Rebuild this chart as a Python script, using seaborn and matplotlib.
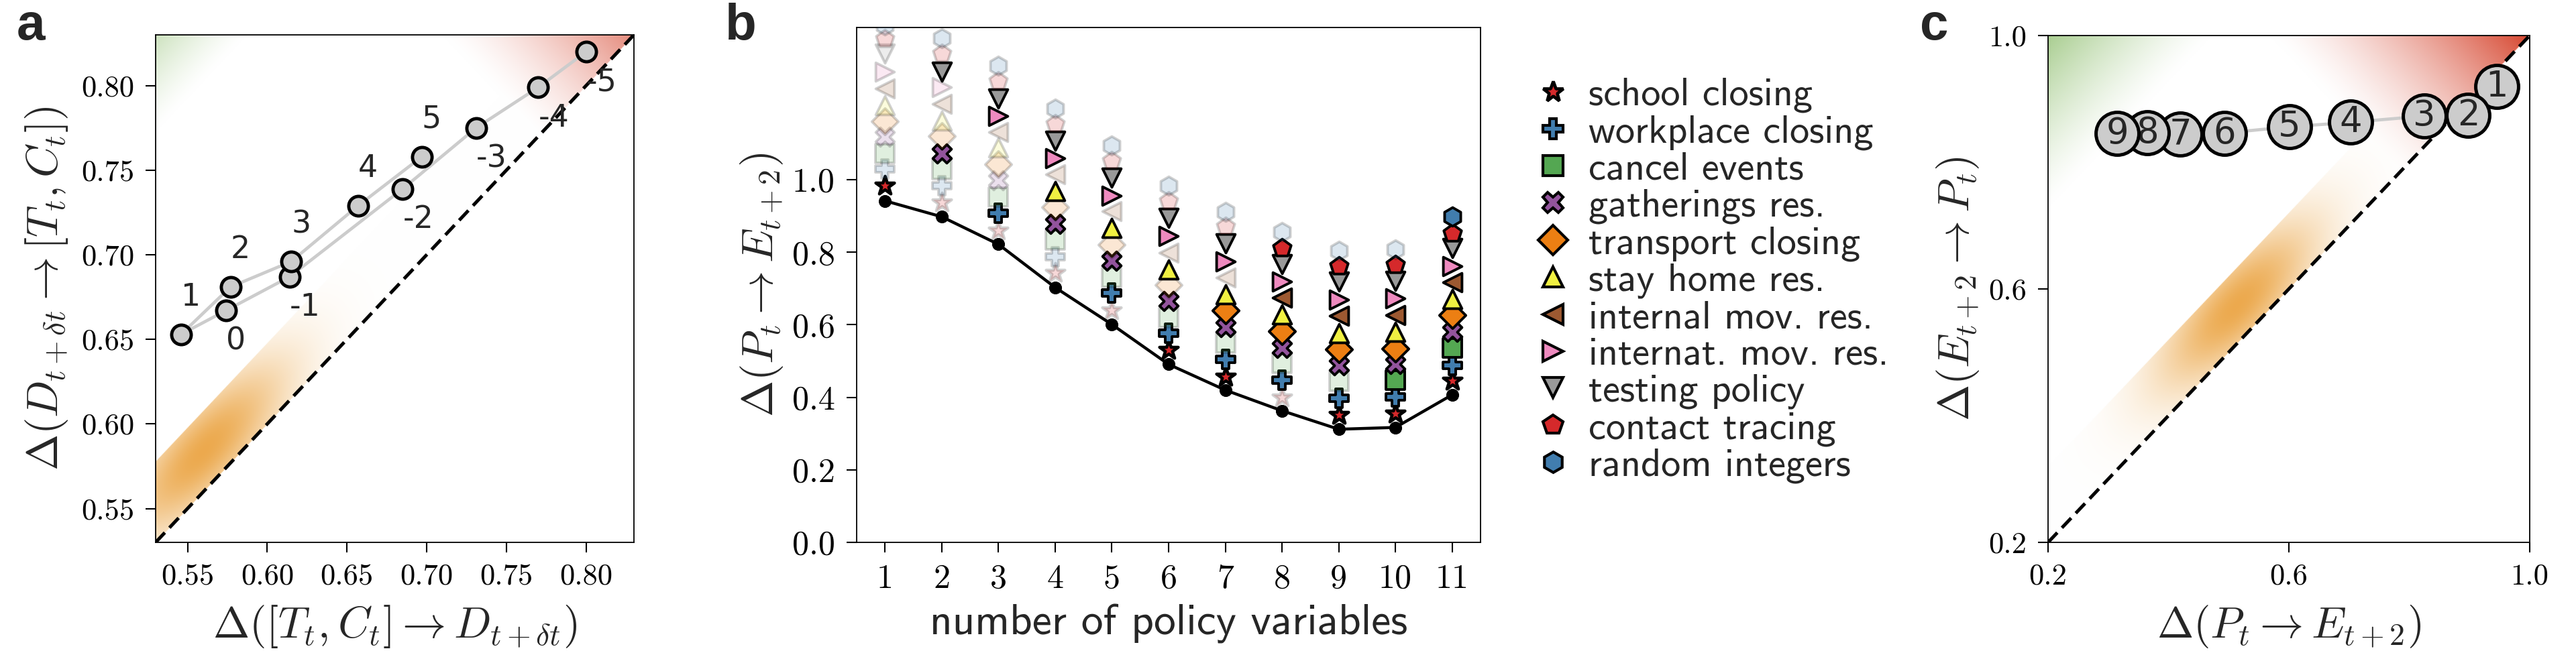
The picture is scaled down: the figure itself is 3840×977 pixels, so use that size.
import matplotlib
matplotlib.use("Agg")
import matplotlib.pyplot as plt
from matplotlib.lines import Line2D
from matplotlib.colors import to_rgb
import numpy as np
import pandas as pd
import seaborn as sns

sns.set_theme(style="ticks")
plt.rcParams["font.family"] = ["cmr10", "DejaVu Sans"]
plt.rcParams["mathtext.fontset"] = "cm"
plt.rcParams["axes.unicode_minus"] = False
plt.rcParams["axes.linewidth"] = 1.3
plt.rcParams["axes.edgecolor"] = "black"

# ---- panel a: lags
lags = [-5, -4, -3, -2, -1, 0, 1, 2, 3, 4, 5]
lag_x = [0.800, 0.770, 0.731, 0.685, 0.614, 0.574, 0.546, 0.577, 0.615, 0.657, 0.697]
lag_y = [0.820, 0.799, 0.775, 0.739, 0.687, 0.667, 0.653, 0.681, 0.696, 0.729, 0.758]

# ---- panel b: number of policy variables
n_vars = [1, 2, 3, 4, 5, 6, 7, 8, 9, 10, 11]
best_set = [0.942, 0.898, 0.822, 0.703, 0.601, 0.491, 0.420, 0.363, 0.312, 0.317, 0.407]

policy_names = ["school closing", "workplace closing", "cancel events", "gatherings res.",
                "transport closing", "stay home res.", "internal mov. res.",
                "internat. mov. res.", "testing policy", "contact tracing", "random integers"]

school_closing = [0.983, 0.938, 0.859, 0.743, 0.639, 0.531, 0.457, 0.400, 0.352, 0.355, 0.445]
workplace_closing = [1.030, 0.983, 0.907, 0.788, 0.687, 0.577, 0.504, 0.448, 0.398, 0.401, 0.488]
cancel_events = [1.072, 1.028, 0.953, 0.833, 0.731, 0.620, 0.549, 0.494, 0.443, 0.448, 0.537]
gatherings_res = [1.118, 1.073, 0.999, 0.879, 0.776, 0.665, 0.593, 0.537, 0.488, 0.491, 0.580]
transport_closing = [1.161, 1.120, 1.043, 0.924, 0.821, 0.710, 0.639, 0.583, 0.533, 0.535, 0.626]
stay_home_res = [1.206, 1.163, 1.089, 0.969, 0.867, 0.753, 0.685, 0.628, 0.577, 0.580, 0.671]
internal_mov = [1.252, 1.209, 1.132, 1.015, 0.913, 0.799, 0.731, 0.674, 0.625, 0.626, 0.717]
internat_mov = [1.298, 1.255, 1.176, 1.059, 0.956, 0.845, 0.774, 0.719, 0.670, 0.673, 0.762]
testing_policy = [1.348, 1.298, 1.224, 1.107, 1.006, 0.895, 0.824, 0.767, 0.719, 0.722, 0.811]
contact_tracing = [1.388, 1.348, 1.272, 1.153, 1.052, 0.941, 0.870, 0.811, 0.762, 0.765, 0.852]
random_integers = [1.425, 1.390, 1.314, 1.197, 1.094, 0.983, 0.911, 0.856, 0.805, 0.808, 0.898]

# 1 = variable belongs to the selected set for that n (drawn opaque)
school_sel = [1, 0, 0, 0, 0, 1, 1, 0, 1, 1, 1]
workplace_sel = [0, 0, 1, 0, 1, 1, 1, 1, 1, 1, 1]
cancel_sel = [0, 0, 0, 0, 0, 0, 0, 0, 0, 1, 1]
gatherings_sel = [0, 1, 0, 1, 1, 1, 1, 1, 1, 1, 1]
transport_sel = [0, 0, 0, 0, 0, 0, 1, 1, 1, 1, 1]
stay_home_sel = [0, 0, 0, 1, 1, 1, 1, 1, 1, 1, 1]
internal_sel = [0, 0, 0, 0, 0, 0, 0, 1, 1, 1, 1]
internat_sel = [0, 0, 1, 1, 1, 1, 1, 1, 1, 1, 1]
testing_sel = [0, 1, 1, 1, 1, 1, 1, 1, 1, 1, 1]
contact_sel = [0, 0, 0, 0, 0, 0, 0, 1, 1, 1, 1]
random_sel = [0, 0, 0, 0, 0, 0, 0, 0, 0, 0, 1]

# ---- panel c: embedding dimension
dims = [1, 2, 3, 4, 5, 6, 7, 8, 9]
dim_x = [0.945, 0.898, 0.825, 0.703, 0.601, 0.493, 0.420, 0.365, 0.315]
dim_y = [0.920, 0.874, 0.873, 0.863, 0.856, 0.846, 0.844, 0.847, 0.845]

values = [school_closing, workplace_closing, cancel_events, gatherings_res, transport_closing,
          stay_home_res, internal_mov, internat_mov, testing_policy, contact_tracing,
          random_integers]
selected = [school_sel, workplace_sel, cancel_sel, gatherings_sel, transport_sel, stay_home_sel,
            internal_sel, internat_sel, testing_sel, contact_sel, random_sel]
markers = ["*", "P", "s", "X", "D", "^", "<", ">", "v", "p", "h"]
set1 = sns.color_palette("Set1", 9, desat=0.85)
colors = [set1[i % 9] for i in range(11)]

W, H = 3840, 977
fig = plt.figure(figsize=(W / 100, H / 100), dpi=100)


def px_axes(l, r, t, b):
    return fig.add_axes([l / W, 1 - b / H, (r - l) / W, (b - t) / H])


def shade(ax, lo, hi, green, red, orange):
    """background washes: green corner, red corner, orange band along the diagonal"""
    g = np.linspace(lo, hi, 600)
    X, Y = np.meshgrid(g, g)
    d = (Y - X) / (hi - lo)
    s = (X + Y - 2 * lo) / (2 * (hi - lo))
    img = np.ones(X.shape + (3,))

    def blend(col, a):
        nonlocal img
        img = img * (1 - a[..., None]) + np.array(to_rgb(col)) * a[..., None]

    g0, gmax = green
    blend("#70ad47", gmax * np.clip((d - g0) / (1 - g0), 0, 1) ** 1.3)
    r0, rmax = red
    blend("#d43d25", rmax * np.clip((s - r0) / (1 - r0), 0, 1) ** 1.4 * (d >= 0))
    s0, ws, d0, wd, amax = orange
    band = (d >= 0) & (d <= 2 * d0)
    a_or = amax * np.exp(-((s - s0) / ws) ** 2) * np.exp(-((d - d0) / wd) ** 2) * band
    blend("#eba545", a_or)
    ax.imshow(img, extent=(lo, hi, lo, hi), origin="lower", aspect="auto",
              interpolation="bilinear", zorder=0)


def style_ticks(ax, size):
    ax.tick_params(direction="out", length=11, width=1.5, pad=12, labelsize=size,
                   colors="black")
    for sp in ax.spines.values():
        sp.set_visible(True)
        sp.set_color("black")


# ---------------- panel a
ax_a = px_axes(232, 945, 52, 809)
shade(ax_a, 0.53, 0.83, green=(0.81, 0.35), red=(0.80, 0.6),
      orange=(0.14, 0.16, 0.08, 0.12, 0.95))
ax_a.plot([0.53, 0.83], [0.53, 0.83], color="black", lw=3.6, dashes=(4, 2), zorder=1)
df_a = pd.DataFrame({"x": lag_x, "y": lag_y, "lag": lags})
sns.lineplot(data=df_a, x="x", y="y", sort=False, color="#cccccc", lw=3.4, ax=ax_a, zorder=2)
sns.scatterplot(data=df_a, x="x", y="y", s=21 ** 2, color="#cccccc", edgecolor="black",
                linewidth=3.5, ax=ax_a, zorder=3)
for lx, ly, lg in zip(lag_x, lag_y, lags):
    dy = 40 if lg > 0 else -33
    ax_a.annotate(str(lg), (lx, ly), xytext=(0, dy), textcoords="offset points",
                  ha="left", va="center", fontsize=33, family="DejaVu Sans", zorder=4)
ax_a.set_xlim(0.53, 0.83)
ax_a.set_ylim(0.53, 0.83)
ax_a.set_xticks([0.55, 0.60, 0.65, 0.70, 0.75, 0.80])
ax_a.set_yticks([0.55, 0.60, 0.65, 0.70, 0.75, 0.80])
ax_a.set_xticklabels([f"{v:.2f}" for v in ax_a.get_xticks()])
ax_a.set_yticklabels([f"{v:.2f}" for v in ax_a.get_yticks()])
style_ticks(ax_a, 32)
ax_a.set_xlabel(r"$\Delta([T_t, C_t] \rightarrow D_{t+\delta t})$", fontsize=47, labelpad=14)
ax_a.set_ylabel(r"$\Delta(D_{t+\delta t} \rightarrow [T_t, C_t])$", fontsize=47, labelpad=12)

# ---------------- panel b
ax_b = px_axes(1277, 2207, 41, 809)
sns.lineplot(x=n_vars, y=best_set, color="black", lw=3.2, marker="o", markersize=13,
             markeredgecolor="black", ax=ax_b, zorder=2)
for vals, sel, mk, col in zip(values, selected, markers, colors):
    df = pd.DataFrame({"n": n_vars, "v": vals, "sel": sel})
    sz = 21 ** 2 if mk == "*" else 20 ** 2
    lw = 3.3 if mk == "*" else 2.8
    for flag, alpha in [(0, 0.18), (1, 1.0)]:
        part = df[df["sel"] == flag]
        if len(part):
            sns.scatterplot(data=part, x="n", y="v", marker=mk, s=sz, color=col,
                            edgecolor="black", linewidth=lw, alpha=alpha, ax=ax_b,
                            zorder=3, clip_on=True)
ax_b.set_xlim(0.5, 11.5)
ax_b.set_ylim(0, 1.42)
ax_b.set_xticks(n_vars)
ax_b.set_yticks([0.0, 0.2, 0.4, 0.6, 0.8, 1.0])
ax_b.set_yticklabels([f"{v:.1f}" for v in ax_b.get_yticks()])
style_ticks(ax_b, 36)
ax_b.set_xlabel("number of policy variables", fontsize=47, family="cmss10", labelpad=10)
ax_b.set_ylabel(r"$\Delta(P_t \rightarrow E_{t+2})$", fontsize=47, labelpad=8)

handles = [Line2D([], [], ls="none", marker=mk, markersize=(23 if mk == "*" else 22),
                  markerfacecolor=col, markeredgecolor="black",
                  markeredgewidth=(3.4 if mk == "*" else 3.0))
           for mk, col in zip(markers, colors)]
fig.legend(handles, policy_names, loc="upper left", bbox_to_anchor=(2280 / W, 1 - 116 / H),
           frameon=False, prop={"family": "cmss10", "size": 42}, labelspacing=0.05,
           handletextpad=0.3, handlelength=1.2, borderaxespad=0, borderpad=0)

# ---------------- panel c
ax_c = px_axes(3053, 3771, 53, 809)
shade(ax_c, 0.2, 1.0, green=(0.66, 0.60), red=(0.73, 0.95),
      orange=(0.43, 0.15, 0.075, 0.12, 0.95))
ax_c.plot([0.2, 1.0], [0.2, 1.0], color="black", lw=3.6, dashes=(4, 2), zorder=1)
df_c = pd.DataFrame({"x": dim_x, "y": dim_y, "dim": dims})
sns.lineplot(data=df_c, x="x", y="y", sort=False, color="#cccccc", lw=3.4, ax=ax_c, zorder=2)
for i, (cx, cy, dm) in enumerate(zip(dim_x, dim_y, dims)):
    ax_c.scatter([cx], [cy], s=46 ** 2, color="#cccccc", edgecolor="black", linewidth=3.6,
                 zorder=3 + 2 * i)
    ax_c.text(cx, cy, str(dm), ha="center", va="center", fontsize=38,
              family="DejaVu Sans", zorder=4 + 2 * i)
ax_c.set_xlim(0.2, 1.0)
ax_c.set_ylim(0.2, 1.0)
ax_c.set_xticks([0.2, 0.6, 1.0])
ax_c.set_yticks([0.2, 0.6, 1.0])
ax_c.set_xticklabels([f"{v:.1f}" for v in ax_c.get_xticks()])
ax_c.set_yticklabels([f"{v:.1f}" for v in ax_c.get_yticks()])
style_ticks(ax_c, 32)
ax_c.set_xlabel(r"$\Delta(P_t \rightarrow E_{t+2})$", fontsize=47, labelpad=14)
ax_c.set_ylabel(r"$\Delta(E_{t+2} \rightarrow P_t)$", fontsize=47, labelpad=8)

# panel letters
for x0, letter in [(25, "a"), (1081, "b"), (2862, "c")]:
    fig.text(x0 / W, 1 - 59 / H, letter, fontsize=55, fontweight="bold",
             family="Liberation Sans", va="baseline", ha="left")

fig.savefig("out.png", dpi=100)
